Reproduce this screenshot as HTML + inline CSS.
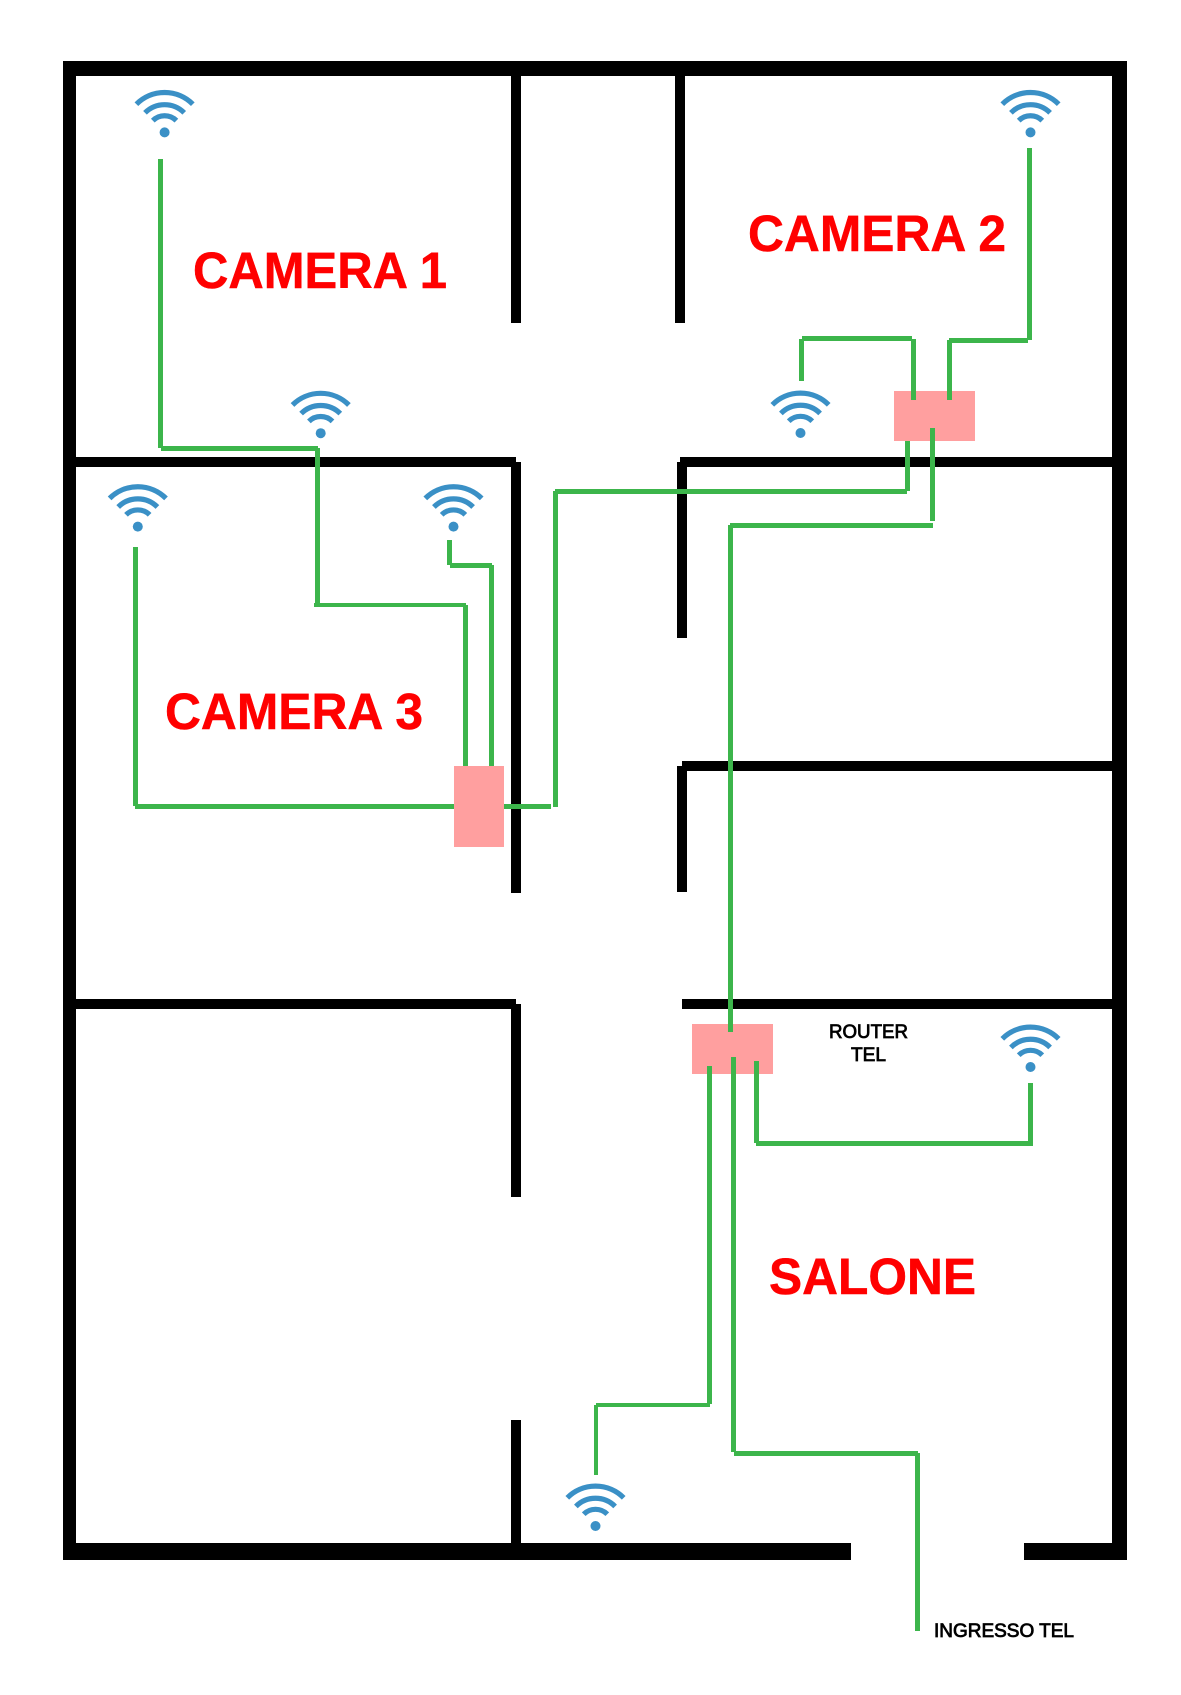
<!DOCTYPE html>
<html><head><meta charset="utf-8"><title>Planimetria</title>
<style>html,body{margin:0;padding:0;background:#fff}svg{display:block}</style></head>
<body>
<svg xmlns="http://www.w3.org/2000/svg" width="1181" height="1695" viewBox="0 0 1181 1695">
<defs>
<g id="w" fill="none" stroke="#3a90c6" stroke-width="5.2">
<path d="M-28.2-28.2A39.9 39.9 0 0 1 28.2-28.2"/>
<path d="M-19.6-19.6A27.7 27.7 0 0 1 19.6-19.6"/>
<path d="M-11.8-11.8A16.7 16.7 0 0 1 11.8-11.8"/>
<circle r="5" fill="#3a90c6" stroke="none"/>
</g>
</defs>
<rect width="1181" height="1695" fill="#fff"/>
<g fill="#000" shape-rendering="crispEdges">
<rect x="63" y="61" width="1064" height="15"/>
<rect x="63" y="61" width="13" height="1499"/>
<rect x="1112" y="61" width="15" height="1499"/>
<rect x="63" y="1543" width="788" height="17"/>
<rect x="1024" y="1543" width="103" height="17"/>
<rect x="511" y="76" width="10" height="247"/>
<rect x="675" y="76" width="10" height="247"/>
<rect x="76" y="457" width="440" height="10"/>
<rect x="511" y="462" width="10" height="431"/>
<rect x="680" y="457" width="432" height="10"/>
<rect x="677" y="462" width="10" height="176"/>
<rect x="682" y="761" width="430" height="10"/>
<rect x="677" y="766" width="10" height="126"/>
<rect x="682" y="999" width="430" height="10"/>
<rect x="76" y="999" width="440" height="10"/>
<rect x="511" y="1004" width="10" height="193"/>
<rect x="511" y="1420" width="10" height="123"/>
</g>
<g fill="#3cb54b" shape-rendering="crispEdges">
<!-- lines under pink -->
<rect x="158" y="159" width="5" height="289"/>
<rect x="161" y="446" width="157" height="5"/>
<rect x="315" y="448" width="5" height="159"/>
<rect x="314" y="603" width="152" height="4"/>
<rect x="463" y="605" width="5" height="161"/>
<rect x="133" y="547" width="5" height="259"/>
<rect x="135" y="804" width="319" height="5"/>
<rect x="447" y="540" width="5" height="25"/>
<rect x="450" y="563" width="42" height="5"/>
<rect x="489" y="565" width="5" height="201"/>
<rect x="504" y="804" width="47" height="5"/>
<rect x="553" y="491" width="5" height="316"/>
<rect x="555" y="489" width="352" height="5"/>
<rect x="905" y="441" width="5" height="50"/>
</g>
<g fill="#ff9f9f" shape-rendering="crispEdges">
<rect x="894" y="391" width="81" height="50"/>
<rect x="454" y="766" width="50" height="81"/>
<rect x="692" y="1024" width="81" height="50"/>
</g>
<g fill="#3cb54b" shape-rendering="crispEdges">
<rect x="930" y="428" width="5" height="93"/>
<rect x="730" y="523" width="203" height="5"/>
<rect x="728" y="525" width="5" height="507"/>
<rect x="799" y="339" width="5" height="42"/>
<rect x="802" y="336" width="110" height="5"/>
<rect x="911" y="339" width="5" height="61"/>
<rect x="1027" y="148" width="5" height="192"/>
<rect x="949" y="338" width="79" height="5"/>
<rect x="947" y="340" width="5" height="60"/>
<rect x="707" y="1066" width="5" height="338"/>
<rect x="596" y="1403" width="114" height="4"/>
<rect x="594" y="1405" width="4" height="70"/>
<rect x="731" y="1057" width="5" height="395"/>
<rect x="734" y="1451" width="184" height="5"/>
<rect x="915" y="1453" width="5" height="178"/>
<rect x="754" y="1061" width="5" height="82"/>
<rect x="756" y="1141" width="277" height="5"/>
<rect x="1028" y="1083" width="5" height="63"/>
</g>
<use href="#w" x="164.6" y="132.4"/>
<use href="#w" x="320.7" y="433.2"/>
<use href="#w" x="137.8" y="526.6"/>
<use href="#w" x="453.5" y="526.6"/>
<use href="#w" x="1030.5" y="132.4"/>
<use href="#w" x="800.5" y="433"/>
<use href="#w" x="1030.5" y="1067"/>
<use href="#w" x="595.5" y="1526"/>
<g font-family="'Liberation Sans',Arial,sans-serif" font-weight="700" font-size="51" fill="#f00" stroke="#f00" stroke-width=".5">
<text x="193" y="288" textLength="254" lengthAdjust="spacingAndGlyphs">CAMERA 1</text>
<text x="748" y="251" textLength="258" lengthAdjust="spacingAndGlyphs">CAMERA 2</text>
<text x="165" y="729" textLength="258" lengthAdjust="spacingAndGlyphs">CAMERA 3</text>
<text x="769" y="1294" textLength="207" lengthAdjust="spacingAndGlyphs">SALONE</text>
</g>
<g font-family="'Liberation Sans',Arial,sans-serif" font-size="19" fill="#000" stroke="#000" stroke-width=".8">
<text x="829" y="1038" textLength="79" lengthAdjust="spacingAndGlyphs">ROUTER</text>
<text x="851" y="1061" textLength="35" lengthAdjust="spacingAndGlyphs">TEL</text>
<text x="934" y="1637" textLength="140" lengthAdjust="spacingAndGlyphs">INGRESSO TEL</text>
</g>
</svg>
</body></html>
